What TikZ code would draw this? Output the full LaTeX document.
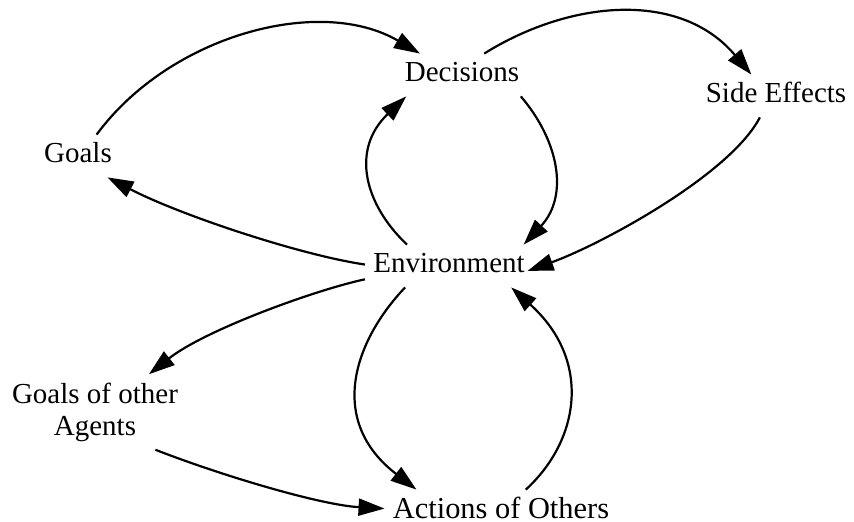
\documentclass[tikz,border=0pt]{standalone}
\usepackage{fontspec}
\setmainfont{Liberation Serif}
\usetikzlibrary{shapes,arrows.meta}

\begin{document}
\begin{tikzpicture}[x=0.5pt, y=-0.5pt,
    concept/.style={inner sep=4pt, text height=10pt, text depth=3pt, font=\fontsize{14.5}{16}\selectfont},
    link/.style={line width=1.1pt, -{Triangle[length=13pt, width=8.5pt]}}]
\useasboundingbox (0,0) rectangle (854,522);
\node[concept] (dec) at (462,75) {Decisions};
\node[concept] (side) at (776,96) {Side Effects};
\node[concept] (goals) at (78,156) {Goals};
\node[concept] (env) at (449,266) {Environment};
\node[concept, inner ysep=0.5pt, text height=13.5pt, text depth=0pt, font=\fontsize{15.2}{16}\selectfont] (act) at (501,504.5) {Actions of Others};
\node[inner sep=4pt, align=center, font=\fontsize{14.5}{16}\selectfont] (oth) at (95,412) {Goals of other\\Agents};
\draw [link] (goals.49) .. controls (170,35) and (320,-5) .. (dec.153);
\draw [link] (dec.44) .. controls (570,0) and (680,-10) .. (side.139);
\draw [link] (dec.-20) .. controls (559,141) and (569,196) .. (env.16);
\draw [link] (env.153) .. controls (365,205) and (350,150) .. (dec.-159);
\draw [link, shorten >=-3pt] (side.-127) .. controls (730,175) and (600,245) .. (env.-2);
\draw [link] (env.179) .. controls (300,255) and (180,215) .. (goals.-36);
\draw [link] (env.189) .. controls (315,290) and (205,330) .. (oth.35);
\draw [link] (env.-154) .. controls (355,340) and (326,420) .. (act.170);
\draw [link] (act.31) .. controls (580,440) and (592,360) .. (env.-19);
\draw [link] (oth.-32) .. controls (220,475) and (320,505) .. (act.182);
\end{tikzpicture}
\end{document}
